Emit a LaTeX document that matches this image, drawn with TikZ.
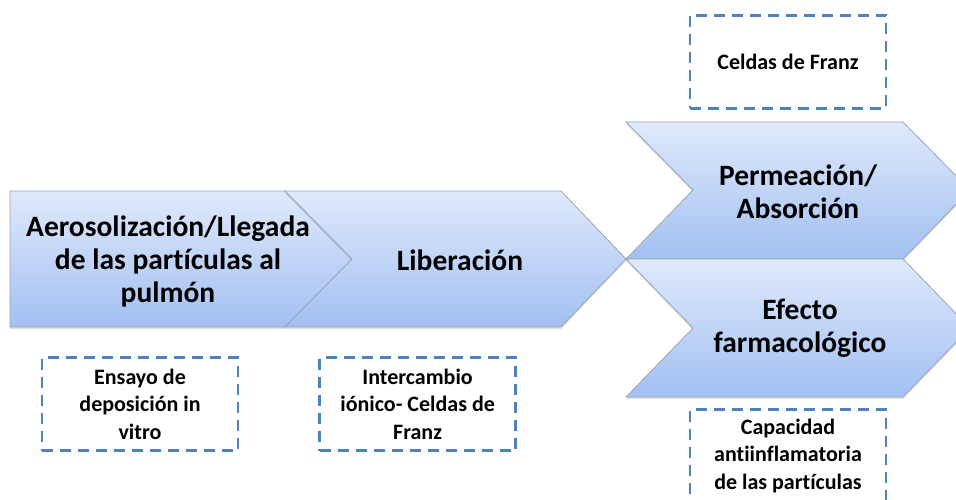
\documentclass[tikz,border=0pt]{standalone}
\usepackage{fontspec}
\setmainfont{Carlito}[Ligatures=NoCommon]
\usetikzlibrary{positioning,shadows}
\definecolor{StageTop}{HTML}{DFE9FB}
\definecolor{StageBot}{HTML}{A2C0F2}
\definecolor{StageLine}{HTML}{9AA6B8}
\definecolor{ProbeBlue}{HTML}{4F81BD}
\tikzset{
  stage/.style={
    draw=StageLine, line width=0.8pt, top color=StageTop, bottom color=StageBot,
    drop shadow={shadow xshift=0pt, shadow yshift=-2pt, opacity=0.25}
  },
  stagetext/.style={font=\fontsize{29.5}{33}\selectfont\bfseries, align=center},
  probe/.style={
    draw=ProbeBlue, line width=2.6pt, dash pattern=on 11pt off 7pt,
    minimum width=196pt, minimum height=93pt, align=center,
    font=\fontsize{22}{27.5}\selectfont\bfseries
  }
}
\begin{document}
\begin{tikzpicture}[x=1pt,y=-1pt]
    \useasboundingbox (0,0) rectangle (956,500);
    % chevrons
    \draw[stage] (10,191) -- (285,191) -- (352,259) -- (285,327) -- (10,327) -- cycle;
    \draw[stage] (285,191) -- (561,191) -- (626,259) -- (561,327) -- (285,327) -- (352,259) -- cycle;
    \draw[stage] (626,122) -- (903,122) -- (970,190) -- (903,259) -- (626,259) -- (693,190) -- cycle;
    \draw[stage] (626,259) -- (903,259) -- (970,328) -- (903,397) -- (626,397) -- (693,328) -- cycle;
    \node[stagetext] (aero) at (168,261) {Aerosolización/Llegada\\de las partículas al\\pulmón};
    \node[stagetext] (lib) at (460,260) {Liberación};
    \node[stagetext] (perm) at (798,192) {Permeación/\\Absorción};
    \node[stagetext] (efecto) at (800,328) {Efecto\\farmacológico};
    % test methods
    \node[probe] (ensayo) at (140,404) {Ensayo de\\deposición in\\vitro};
    \node[probe,right=79pt of ensayo] (interc) {Intercambio\\iónico- Celdas de\\Franz};
    \node[probe] (franz) at (788,62) {Celdas de Franz};
    \node[probe] (capac) at (788,456) {Capacidad\\antiinflamatoria\\de las partículas};
\end{tikzpicture}
\end{document}
